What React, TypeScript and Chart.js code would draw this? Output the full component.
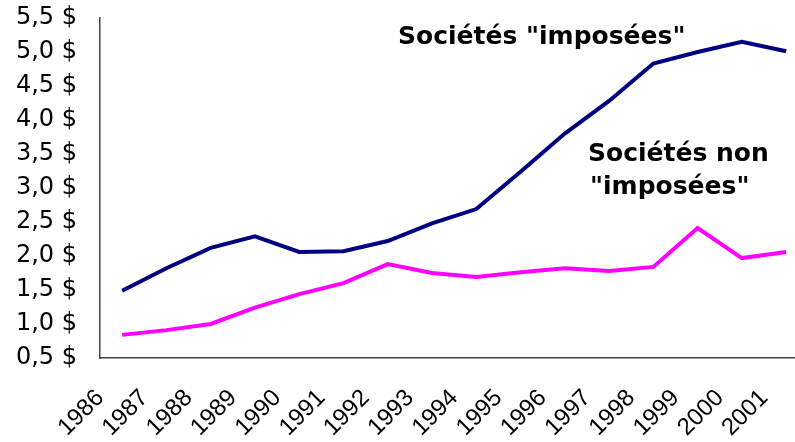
import React, { useEffect, useRef } from "react";
import { Chart, registerables } from "chart.js";

Chart.register(...registerables);

const years = [1986, 1987, 1988, 1989, 1990, 1991, 1992, 1993, 1994, 1995, 1996, 1997, 1998, 1999, 2000, 2001];
const imposees = [1.49, 1.82, 2.12, 2.29, 2.06, 2.07, 2.22, 2.48, 2.69, 3.24, 3.8, 4.28, 4.83, 5.0, 5.15, 5.01];
const nonImposees = [0.84, 0.91, 1.0, 1.24, 1.44, 1.6, 1.88, 1.75, 1.69, 1.76, 1.82, 1.78, 1.84, 2.41, 1.97, 2.06];
const yTicks = [0.5, 1.0, 1.5, 2.0, 2.5, 3.0, 3.5, 4.0, 4.5, 5.0, 5.5];
const labelImposees = ['Sociétés "imposées"'];
const labelNonImposees = ["Sociétés non", '"imposées"'];

const annotations = {
  id: "annotations",
  afterDraw(chart: any) {
    const ctx = chart.ctx;
    ctx.save();
    ctx.font = 'bold 25px "DejaVu Sans"';
    ctx.fillStyle = "#000";
    ctx.textAlign = "left";
    ctx.textBaseline = "middle";
    ctx.fillText(labelImposees[0], 398, 37);
    ctx.fillText(labelNonImposees[0], 588, 154);
    ctx.fillText(labelNonImposees[1], 590, 187);
    ctx.restore();
  },
};

export default function App() {
  const ref = useRef<HTMLCanvasElement | null>(null);
  useEffect(() => {
    if (!ref.current) return;
    const chart = new Chart(ref.current, {
      type: "line",
      data: {
        datasets: [
          {
            label: "Sociétés imposées",
            data: years.map((y, i) => ({ x: y, y: imposees[i] })),
            borderColor: "#000080",
            backgroundColor: "#000080",
            borderWidth: 4,
            pointRadius: 0,
            tension: 0,
          },
          {
            label: "Sociétés non imposées",
            data: years.map((y, i) => ({ x: y, y: nonImposees[i] })),
            borderColor: "#FF00FF",
            backgroundColor: "#FF00FF",
            borderWidth: 4,
            pointRadius: 0,
            tension: 0,
          },
        ],
      },
      options: {
        animation: false,
        responsive: true,
        maintainAspectRatio: false,
        layout: { padding: { top: 18, right: 0, left: 0, bottom: 0 } },
        plugins: { legend: { display: false }, tooltip: { enabled: false } },
        scales: {
          x: {
            type: "linear",
            min: 1985.5,
            max: 2001.2,
            grid: { display: false, drawTicks: false },
            border: { display: true, color: "#444", width: 1.5 },
            afterBuildTicks: (s: any) => {
              s.ticks = years.map((v) => ({ value: v }));
            },
            afterFit: (s: any) => {
              s.height = 84;
              s.paddingLeft = 0;
              s.paddingRight = 0;
            },
            ticks: {
              autoSkip: false,
              minRotation: 45,
              maxRotation: 45,
              padding: 26,
              labelOffset: -22,
              color: "#000",
              font: { family: '"Liberation Sans"', size: 24 },
              callback: (v: any) => String(v),
            },
          },
          y: {
            min: 0.5,
            max: 5.5,
            grid: { display: false, drawTicks: false },
            border: { display: true, color: "#444", width: 1.5 },
            afterBuildTicks: (s: any) => {
              s.ticks = yTicks.map((v) => ({ value: v }));
            },
            afterFit: (s: any) => {
              s.width = 100;
              s.paddingTop = 0;
              s.paddingBottom = 0;
            },
            ticks: {
              padding: 23,
              color: "#000",
              font: { family: '"DejaVu Sans"', size: 24 },
              callback: (v: any) => Number(v).toFixed(1).replace(".", ",") + " $",
            },
          },
        },
      },
      plugins: [annotations],
    });
    return () => chart.destroy();
  }, []);
  return (
    <div style={{ position: "fixed", left: 0, top: 0, width: 795, height: 442, background: "#fff" }}>
      <canvas ref={ref} />
    </div>
  );
}
